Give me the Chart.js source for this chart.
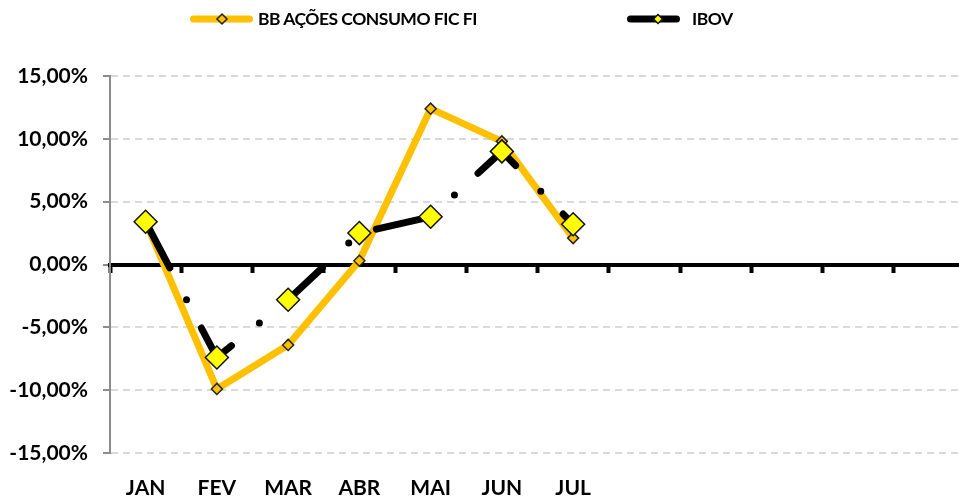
<!DOCTYPE html>
<html>
<head>
<meta charset="utf-8">
<script src="https://cdn.jsdelivr.net/npm/chart.js@4.4.0/dist/chart.umd.min.js"></script>
<style>
    html, body { margin: 0; padding: 0; background: #fff; overflow: hidden; }
    #wrap { position: relative; width: 978px; height: 500px; }
    #legend { position: absolute; top: 0; left: 0; width: 959px; height: 40px;
              font-family: Lato, sans-serif; font-weight: bold; font-size: 17.5px;
              letter-spacing: -0.5px; color: #000; }
    #legend canvas, #legend span { position: absolute; }
    #legend span { top: 1px; line-height: 36px; white-space: nowrap; }
</style>
</head>
<body>
<div id="wrap">
    <canvas id="chart" width="978" height="500"></canvas>
    <div id="legend"></div>
</div>
<script>
// months on the axis (12 slots, only Jan-Jul labelled)
const months = ['JAN', 'FEV', 'MAR', 'ABR', 'MAI', 'JUN', 'JUL', '', '', '', '', ''];
const seriesNames = ['BB AÇÕES CONSUMO FIC FI', 'IBOV'];
// monthly return, %
const bbConsumo = [3.4, -9.9, -6.4, 0.3, 12.4, 9.8, 2.1];
const ibov = [3.4, -7.4, -2.8, 2.5, 3.8, 9.0, 3.2];

const ORANGE = '#FFC000';
const YELLOW = '#FFFF00';
const FONT = 'Lato';

const pct = v => v.toFixed(2).replace('.', ',') + '%';

const datasets = [
    {
        label: seriesNames[0],
        data: bbConsumo,
        borderColor: ORANGE,
        borderWidth: 7,
        borderCapStyle: 'round',
        borderJoinStyle: 'round',
        pointStyle: 'rectRot',
        pointRadius: 5.5,
        pointBackgroundColor: ORANGE,
        pointBorderColor: '#222',
        pointBorderWidth: 1.5,
        order: 2,
        legendMarker: 5
    },
    {
        label: seriesNames[1],
        data: ibov,
        borderColor: '#000',
        borderWidth: 7,
        borderDash: [52, 36, 0, 32], // long dash - dot
        borderCapStyle: 'round',
        borderJoinStyle: 'round',
        pointStyle: 'rectRot',
        pointRadius: 11.5,
        pointBackgroundColor: YELLOW,
        pointBorderColor: '#111',
        pointBorderWidth: 1.5,
        order: 1,
        legendMarker: 4.5
    }
];

const chart = new Chart(document.getElementById('chart').getContext('2d'), {
    type: 'line',
    data: {labels: months, datasets: datasets},
    options: {
        responsive: false,
        animation: false,
        layout: {padding: {top: 76, right: 2, left: 0, bottom: 0}},
        plugins: {
            legend: {display: false},
            tooltip: {enabled: false}
        },
        scales: {
            x: {
                type: 'category',
                position: 'bottom',
                offset: true,
                grid: {display: false, drawTicks: false, offset: true},
                border: {display: false},
                ticks: {
                    autoSkip: false,
                    maxRotation: 0,
                    padding: 23,
                    color: '#000',
                    font: {family: FONT, weight: 'bold', size: 21}
                },
                afterFit: s => { s.height = 47; }
            },
            // the zero line, with its small category ticks
            xZero: {
                type: 'category',
                axis: 'x',
                position: {y: 0},
                offset: true,
                grid: {offset: true, drawOnChartArea: false, drawTicks: true,
                       tickLength: 6, tickWidth: 4, tickColor: '#000'},
                border: {color: '#000', width: 4},
                ticks: {display: false}
            },
            y: {
                min: -15,
                max: 15,
                ticks: {
                    stepSize: 5,
                    padding: 15,
                    color: '#000',
                    font: {family: FONT, weight: 'bold', size: 21},
                    callback: v => pct(v)
                },
                grid: {color: '#d9d9d9', lineWidth: 2, tickLength: 7,
                       tickColor: '#8c8c8c', tickWidth: 2, tickBorderDash: []},
                border: {color: '#8c8c8c', width: 2, dash: [7, 5]},
                afterFit: s => { s.width = 110; }
            }
        }
    }
});

// legend: line + marker swatch, then the name
const legendPos = [
    {left: 190, width: 63, marker: 32, text: 258},
    {left: 627, width: 53, marker: 31, text: 692}
];
const legend = document.getElementById('legend');
datasets.forEach((ds, i) => {
    const pos = legendPos[i];
    const cv = document.createElement('canvas');
    cv.width = pos.width;
    cv.height = 20;
    cv.style.left = pos.left + 'px';
    cv.style.top = '9px';
    const c = cv.getContext('2d');
    const mid = 10;
    c.lineCap = 'round';
    c.lineWidth = 7;
    c.strokeStyle = ds.borderColor;
    c.beginPath();
    c.moveTo(3.5, mid);
    c.lineTo(pos.width - 3.5, mid);
    c.stroke();
    const r = ds.legendMarker;
    c.beginPath();
    c.moveTo(pos.marker, mid - r);
    c.lineTo(pos.marker + r, mid);
    c.lineTo(pos.marker, mid + r);
    c.lineTo(pos.marker - r, mid);
    c.closePath();
    c.fillStyle = ds.pointBackgroundColor;
    c.fill();
    c.lineWidth = 1.5;
    c.strokeStyle = ds.pointBorderColor;
    c.stroke();
    legend.appendChild(cv);

    const label = document.createElement('span');
    label.textContent = ds.label;
    label.style.left = pos.text + 'px';
    legend.appendChild(label);
});
</script>
</body>
</html>
